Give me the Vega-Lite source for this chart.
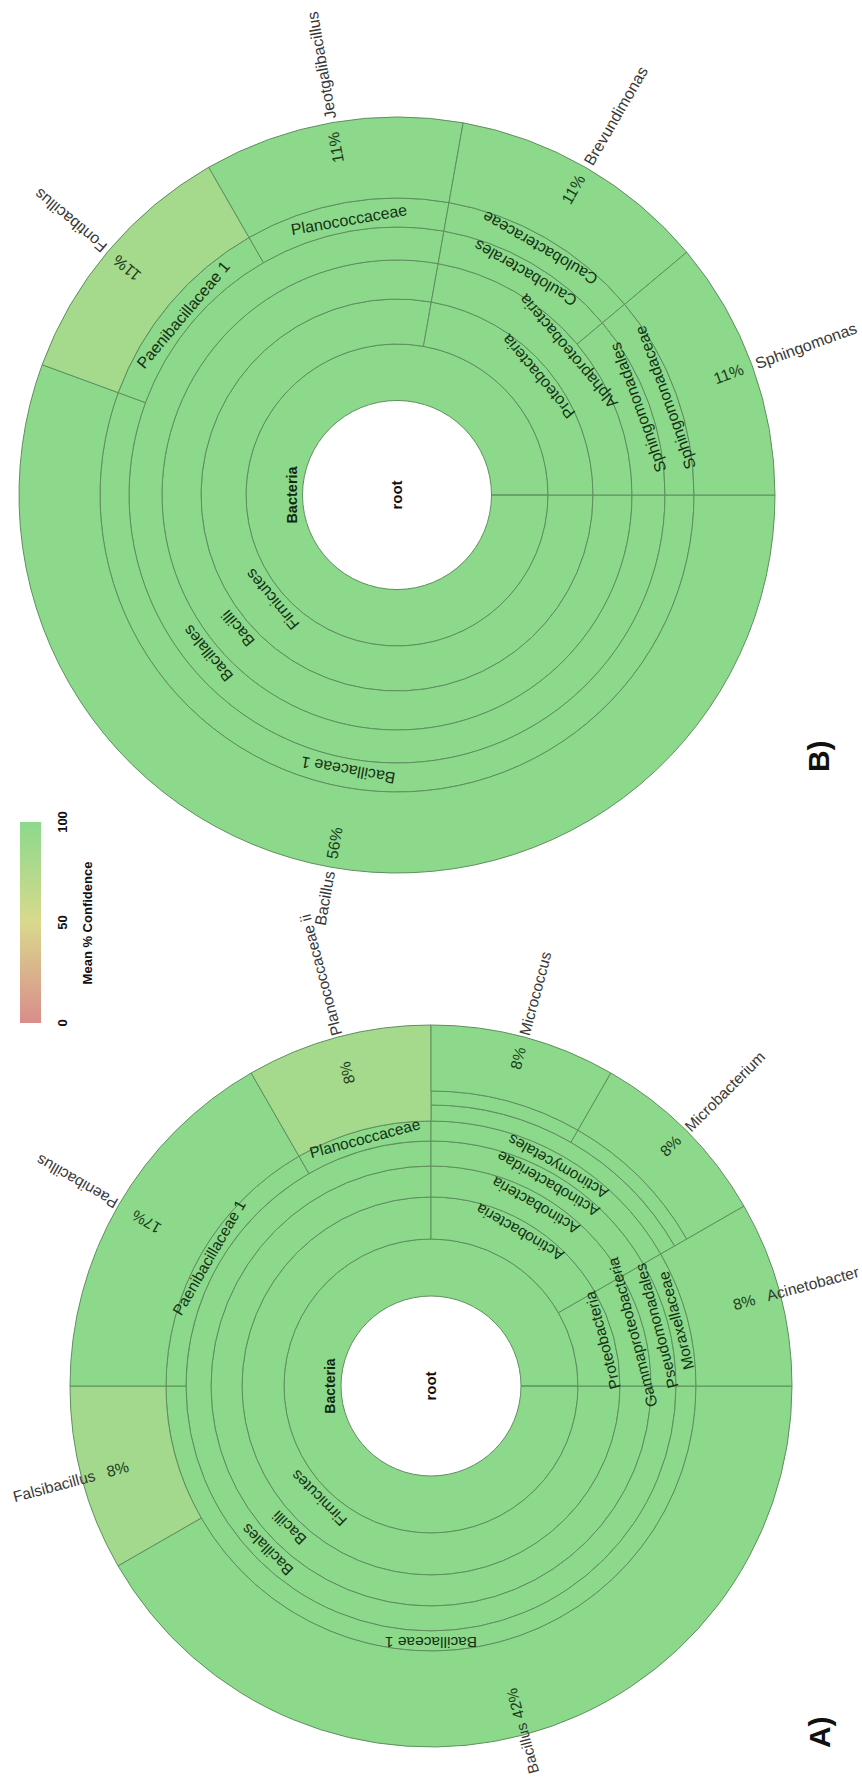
{
  "$schema": "https://vega.github.io/schema/vega-lite/v6.json",
  "background": "white",
  "padding": 0,
  "spacing": 0,
  "bounds": "flush",
  "config": {"view": {"stroke": null}, "font": "Liberation Sans"},
  "resolve": {"scale": {"theta": "independent", "radius": "independent"}},
  "vconcat": [
    {
      "width": 794,
      "height": 990,
      "data": {"values": [
        {"name": "Bacteria", "rank": "kingdom", "t0": 0, "t1": 100, "l0": 0, "l1": 1, "conf": 100},
        {"name": "Firmicutes", "rank": "phylum", "t0": 0, "t1": 77.8, "l0": 1, "l1": 2, "conf": 100},
        {"name": "Proteobacteria", "rank": "phylum", "t0": 77.8, "t1": 100, "l0": 1, "l1": 2, "conf": 100},
        {"name": "Bacilli", "rank": "class", "t0": 0, "t1": 77.8, "l0": 2, "l1": 3, "conf": 100},
        {"name": "Alphaproteobacteria", "rank": "class", "t0": 77.8, "t1": 100, "l0": 2, "l1": 3, "conf": 100},
        {"name": "Bacillales", "rank": "order", "t0": 0, "t1": 77.8, "l0": 3, "l1": 4, "conf": 100},
        {"name": "Caulobacterales", "rank": "order", "t0": 77.8, "t1": 88.9, "l0": 3, "l1": 4, "conf": 100},
        {"name": "Sphingomonadales", "rank": "order", "t0": 88.9, "t1": 100, "l0": 3, "l1": 4, "conf": 100},
        {"name": "Bacillaceae 1", "rank": "family", "t0": 0, "t1": 55.6, "l0": 4, "l1": 5, "conf": 100},
        {"name": "Paenibacillaceae 1", "rank": "family", "t0": 55.6, "t1": 66.7, "l0": 4, "l1": 5, "conf": 100},
        {"name": "Planococcaceae", "rank": "family", "t0": 66.7, "t1": 77.8, "l0": 4, "l1": 5, "conf": 100},
        {"name": "Caulobacteraceae", "rank": "family", "t0": 77.8, "t1": 88.9, "l0": 4, "l1": 5, "conf": 100},
        {"name": "Sphingomonadaceae", "rank": "family", "t0": 88.9, "t1": 100, "l0": 4, "l1": 5, "conf": 100},
        {"name": "Bacillus", "rank": "genus", "t0": 0, "t1": 55.6, "l0": 5, "l1": 6, "conf": 100},
        {"name": "Fontibacillus", "rank": "genus", "t0": 55.6, "t1": 66.7, "l0": 5, "l1": 6, "conf": 84},
        {"name": "Jeotgalibacillus", "rank": "genus", "t0": 66.7, "t1": 77.8, "l0": 5, "l1": 6, "conf": 100},
        {"name": "Brevundimonas", "rank": "genus", "t0": 77.8, "t1": 88.9, "l0": 5, "l1": 6, "conf": 100},
        {"name": "Sphingomonas", "rank": "genus", "t0": 88.9, "t1": 100, "l0": 5, "l1": 6, "conf": 100}
      ]},
      "transform": [
        {"calculate": "(datum.t0 + datum.t1) / 2", "as": "tm"},
        {"calculate": "90 + datum.tm * 3.6", "as": "th"},
        {"calculate": "datum.th % 360", "as": "tmod"},
        {"calculate": "datum.tmod < 180", "as": "tflip"},
        {"calculate": "datum.tflip ? datum.th - 180 : datum.th", "as": "tang"},
        {"calculate": "datum.tflip ? datum.l1 : datum.l0", "as": "lr"},
        {"calculate": "datum.tmod >= 90 && datum.tmod < 270", "as": "rflip"},
        {"calculate": "datum.rflip ? datum.th + 90 : datum.th - 90", "as": "rang"},
        {"calculate": "(datum.l0 + datum.l1) / 2", "as": "pr"},
        {"calculate": "(datum.t1 - datum.t0) / 100", "as": "share"}
      ],
      "layer": [
        {
          "mark": {"type": "arc", "stroke": "#5f8f5f", "strokeWidth": 1},
          "encoding": {
            "theta": {"field": "t0", "type": "quantitative", "stack": null, "scale": {"type": "linear", "domain": [0, 100], "range": [1.5707963, 7.8539816], "zero": false, "nice": false}},
            "theta2": {"field": "t1"},
            "radius": {"field": "l1", "type": "quantitative", "scale": {"type": "linear", "domain": [0, 1, 2, 3, 4, 5, 6], "range": [94.5, 151, 196, 235, 268, 297, 378], "zero": false, "nice": false}},
            "radius2": {"field": "l0"},
            "color": {
              "field": "conf", "type": "quantitative",
              "scale": {"domain": [0, 100], "range": ["hsl(0,50%,70%)", "hsl(120,50%,70%)"], "interpolate": "hsl"},
              "legend": {
                "title": "Mean % Confidence",
                "orient": "none", "legendX": 20, "legendY": 822,
                "direction": "vertical",
                "gradientLength": 201, "gradientThickness": 21, "gradientStrokeWidth": 0,
                "values": [0, 50, 100],
                "labelFont": "Liberation Sans", "labelFontSize": 13, "labelFontWeight": "bold", "labelColor": "#111111", "labelOffset": 16, "labelOverlap": false,
                "titleFont": "Liberation Sans", "titleFontSize": 13, "titleFontWeight": "bold", "titleColor": "#111111",
                "titleOrient": "right", "titleAnchor": "middle", "titlePadding": 12,
                "encode": {
                  "labels": {"update": {"angle": {"value": -90}, "align": {"value": "center"}, "baseline": {"value": "top"}}},
                  "title": {"update": {"angle": {"value": -90}, "align": {"value": "center"}, "baseline": {"value": "top"}}}
                }
              }
            }
          }
        },
        {
          "transform": [{"filter": "datum.rank !== 'genus' && datum.rank !== 'kingdom'"}],
          "mark": {"type": "text", "align": "center", "baseline": "alphabetic", "dy": -6, "fontSize": 16, "color": "#143214"},
          "encoding": {
            "theta": {"field": "tm", "type": "quantitative"},
            "radius": {"field": "lr", "type": "quantitative"},
            "text": {"field": "name"},
            "angle": {"field": "tang", "type": "quantitative", "scale": null}
          }
        },
        {
          "transform": [{"filter": "datum.rank === 'kingdom'"}],
          "mark": {"type": "text", "align": "center", "baseline": "alphabetic", "dy": -6, "fontSize": 14.5, "fontWeight": "bold", "color": "#102810"},
          "encoding": {
            "theta": {"field": "tm", "type": "quantitative"},
            "radius": {"field": "lr", "type": "quantitative"},
            "text": {"field": "name"},
            "angle": {"field": "tang", "type": "quantitative", "scale": null}
          }
        },
        {
          "transform": [{"filter": "datum.rank === 'genus' && !datum.rflip"}],
          "mark": {"type": "text", "align": "left", "baseline": "middle", "fontSize": 16, "color": "#1a3d1a"},
          "encoding": {
            "theta": {"field": "tm", "type": "quantitative"},
            "radius": {"field": "pr", "type": "quantitative"},
            "text": {"field": "share", "type": "quantitative", "format": ".0%"},
            "angle": {"field": "rang", "type": "quantitative", "scale": null}
          }
        },
        {
          "transform": [{"filter": "datum.rank === 'genus' && datum.rflip"}],
          "mark": {"type": "text", "align": "right", "baseline": "middle", "fontSize": 16, "color": "#1a3d1a"},
          "encoding": {
            "theta": {"field": "tm", "type": "quantitative"},
            "radius": {"field": "pr", "type": "quantitative"},
            "text": {"field": "share", "type": "quantitative", "format": ".0%"},
            "angle": {"field": "rang", "type": "quantitative", "scale": null}
          }
        },
        {
          "transform": [{"filter": "datum.rank === 'genus' && !datum.rflip"}],
          "mark": {"type": "text", "align": "left", "baseline": "middle", "fontSize": 16, "color": "#383838"},
          "encoding": {
            "theta": {"field": "tm", "type": "quantitative"},
            "radius": {"datum": 6.05, "type": "quantitative"},
            "text": {"field": "name"},
            "angle": {"field": "rang", "type": "quantitative", "scale": null}
          }
        },
        {
          "transform": [{"filter": "datum.rank === 'genus' && datum.rflip"}],
          "mark": {"type": "text", "align": "right", "baseline": "middle", "fontSize": 16, "color": "#383838"},
          "encoding": {
            "theta": {"field": "tm", "type": "quantitative"},
            "radius": {"datum": 6.05, "type": "quantitative"},
            "text": {"field": "name"},
            "angle": {"field": "rang", "type": "quantitative", "scale": null}
          }
        },
        {
          "data": {"values": [{"t": "root"}]},
          "mark": {"type": "text", "angle": 270, "align": "center", "baseline": "middle", "fontSize": 15, "fontWeight": "bold", "color": "#111111"},
          "encoding": {"text": {"field": "t"}}
        },
        {
          "data": {"values": [{"t": "B)"}]},
          "mark": {"type": "text", "angle": 270, "align": "center", "baseline": "middle", "fontSize": 30, "fontWeight": "bold", "color": "#111111"},
          "encoding": {
            "theta": {"datum": 8.81, "type": "quantitative"},
            "radius": {"datum": 7.469, "type": "quantitative"},
            "text": {"field": "t"}
          }
        }
      ]
    },
    {
      "width": 862,
      "height": 792,
      "data": {"values": [
        {"name": "Bacteria", "rank": "kingdom", "t0": 0, "t1": 100, "l0": 0, "l1": 1, "conf": 100},
        {"name": "Firmicutes", "rank": "phylum", "t0": 0, "t1": 75, "l0": 1, "l1": 2, "conf": 100},
        {"name": "Actinobacteria", "rank": "phylum", "t0": 75, "t1": 91.7, "l0": 1, "l1": 2, "conf": 100},
        {"name": "Proteobacteria", "rank": "phylum", "t0": 91.7, "t1": 100, "l0": 1, "l1": 2, "conf": 100},
        {"name": "Bacilli", "rank": "class", "t0": 0, "t1": 75, "l0": 2, "l1": 3, "conf": 100},
        {"name": "Actinobacteria", "rank": "class", "t0": 75, "t1": 91.7, "l0": 2, "l1": 3, "conf": 100},
        {"name": "Gammaproteobacteria", "rank": "class", "t0": 91.7, "t1": 100, "l0": 2, "l1": 3, "conf": 100},
        {"name": "Bacillales", "rank": "order", "t0": 0, "t1": 75, "l0": 3, "l1": 4, "conf": 100},
        {"name": "Actinobacteridae", "rank": "subclass", "t0": 75, "t1": 91.7, "l0": 3, "l1": 4, "conf": 100},
        {"name": "Pseudomonadales", "rank": "order", "t0": 91.7, "t1": 100, "l0": 3, "l1": 4, "conf": 100},
        {"name": "Bacillaceae 1", "rank": "family", "t0": 0, "t1": 50, "l0": 4, "l1": 5, "conf": 100},
        {"name": "Paenibacillaceae 1", "rank": "family", "t0": 50, "t1": 66.7, "l0": 4, "l1": 5, "conf": 100},
        {"name": "Planococcaceae", "rank": "family", "t0": 66.7, "t1": 75, "l0": 4, "l1": 5, "conf": 100},
        {"name": "Actinomycetales", "rank": "order", "t0": 75, "t1": 91.7, "l0": 4, "l1": 5, "conf": 100},
        {"name": "Moraxellaceae", "rank": "family", "t0": 91.7, "t1": 100, "l0": 4, "l1": 5, "conf": 100},
        {"name": "Micrococcineae", "rank": "suborder", "t0": 75, "t1": 91.7, "l0": 5, "l1": 6, "conf": 100},
        {"name": "Micrococcaceae", "rank": "family", "t0": 75, "t1": 83.3, "l0": 6, "l1": 7, "conf": 100},
        {"name": "Microbacteriaceae", "rank": "family", "t0": 83.3, "t1": 91.7, "l0": 6, "l1": 7, "conf": 100},
        {"name": "Bacillus", "rank": "genus", "t0": 0, "t1": 41.7, "l0": 5, "l1": 8, "conf": 100},
        {"name": "Falsibacillus", "rank": "genus", "t0": 41.7, "t1": 50, "l0": 5, "l1": 8, "conf": 86},
        {"name": "Paenibacillus", "rank": "genus", "t0": 50, "t1": 66.7, "l0": 5, "l1": 8, "conf": 100},
        {"name": "Planococcaceae ii", "rank": "genus", "t0": 66.7, "t1": 75, "l0": 5, "l1": 8, "conf": 84},
        {"name": "Micrococcus", "rank": "genus", "t0": 75, "t1": 83.3, "l0": 7, "l1": 8, "conf": 100},
        {"name": "Microbacterium", "rank": "genus", "t0": 83.3, "t1": 91.7, "l0": 7, "l1": 8, "conf": 100},
        {"name": "Acinetobacter", "rank": "genus", "t0": 91.7, "t1": 100, "l0": 5, "l1": 8, "conf": 100}
      ]},
      "transform": [
        {"calculate": "(datum.t0 + datum.t1) / 2", "as": "tm"},
        {"calculate": "90 + datum.tm * 3.6", "as": "th"},
        {"calculate": "datum.th % 360", "as": "tmod"},
        {"calculate": "datum.tmod < 180", "as": "tflip"},
        {"calculate": "datum.tflip ? datum.th - 180 : datum.th", "as": "tang"},
        {"calculate": "datum.tflip ? datum.l1 : datum.l0", "as": "lr"},
        {"calculate": "datum.tmod >= 90 && datum.tmod < 270", "as": "rflip"},
        {"calculate": "datum.rflip ? datum.th + 90 : datum.th - 90", "as": "rang"},
        {"calculate": "datum.l0 === 7 ? 7.5 : 7.273", "as": "pr"},
        {"calculate": "(datum.t1 - datum.t0) / 100", "as": "share"}
      ],
      "layer": [
        {
          "mark": {"type": "arc", "stroke": "#5f8f5f", "strokeWidth": 1},
          "encoding": {
            "theta": {"field": "t0", "type": "quantitative", "stack": null, "scale": {"type": "linear", "domain": [0, 100], "range": [1.5707963, 7.8539816], "zero": false, "nice": false}},
            "theta2": {"field": "t1"},
            "radius": {"field": "l1", "type": "quantitative", "scale": {"type": "linear", "domain": [0, 1, 2, 3, 4, 5, 6, 7, 8], "range": [90, 147, 189, 220, 245, 265, 281, 295, 361], "zero": false, "nice": false}},
            "radius2": {"field": "l0"},
            "color": {
              "field": "conf", "type": "quantitative",
              "scale": {"domain": [0, 100], "range": ["hsl(0,50%,70%)", "hsl(120,50%,70%)"], "interpolate": "hsl"},
              "legend": {
                "title": "Mean % Confidence",
                "orient": "none", "legendX": 20, "legendY": 822,
                "direction": "vertical",
                "gradientLength": 201, "gradientThickness": 21, "gradientStrokeWidth": 0,
                "values": [0, 50, 100],
                "labelFont": "Liberation Sans", "labelFontSize": 13, "labelFontWeight": "bold", "labelColor": "#111111", "labelOffset": 16, "labelOverlap": false,
                "titleFont": "Liberation Sans", "titleFontSize": 13, "titleFontWeight": "bold", "titleColor": "#111111",
                "titleOrient": "right", "titleAnchor": "middle", "titlePadding": 12,
                "encode": {
                  "labels": {"update": {"angle": {"value": -90}, "align": {"value": "center"}, "baseline": {"value": "top"}}},
                  "title": {"update": {"angle": {"value": -90}, "align": {"value": "center"}, "baseline": {"value": "top"}}}
                }
              }
            }
          }
        },
        {
          "transform": [{"filter": "datum.rank !== 'genus' && datum.rank !== 'kingdom' && datum.name !== 'Micrococcineae' && datum.name !== 'Micrococcaceae' && datum.name !== 'Microbacteriaceae'"}],
          "mark": {"type": "text", "align": "center", "baseline": "alphabetic", "dy": -6, "fontSize": 15.5, "color": "#143214"},
          "encoding": {
            "theta": {"field": "tm", "type": "quantitative"},
            "radius": {"field": "lr", "type": "quantitative"},
            "text": {"field": "name"},
            "angle": {"field": "tang", "type": "quantitative", "scale": null}
          }
        },
        {
          "transform": [{"filter": "datum.rank === 'kingdom'"}],
          "mark": {"type": "text", "align": "center", "baseline": "alphabetic", "dy": -6, "fontSize": 14, "fontWeight": "bold", "color": "#102810"},
          "encoding": {
            "theta": {"field": "tm", "type": "quantitative"},
            "radius": {"field": "lr", "type": "quantitative"},
            "text": {"field": "name"},
            "angle": {"field": "tang", "type": "quantitative", "scale": null}
          }
        },
        {
          "transform": [{"filter": "datum.rank === 'genus' && !datum.rflip"}],
          "mark": {"type": "text", "align": "left", "baseline": "middle", "fontSize": 15.5, "color": "#1a3d1a"},
          "encoding": {
            "theta": {"field": "tm", "type": "quantitative"},
            "radius": {"field": "pr", "type": "quantitative"},
            "text": {"field": "share", "type": "quantitative", "format": ".0%"},
            "angle": {"field": "rang", "type": "quantitative", "scale": null}
          }
        },
        {
          "transform": [{"filter": "datum.rank === 'genus' && datum.rflip"}],
          "mark": {"type": "text", "align": "right", "baseline": "middle", "fontSize": 15.5, "color": "#1a3d1a"},
          "encoding": {
            "theta": {"field": "tm", "type": "quantitative"},
            "radius": {"field": "pr", "type": "quantitative"},
            "text": {"field": "share", "type": "quantitative", "format": ".0%"},
            "angle": {"field": "rang", "type": "quantitative", "scale": null}
          }
        },
        {
          "transform": [{"filter": "datum.rank === 'genus' && !datum.rflip && datum.name !== 'Acinetobacter'"}],
          "mark": {"type": "text", "align": "left", "baseline": "middle", "fontSize": 15.5, "color": "#383838"},
          "encoding": {
            "theta": {"field": "tm", "type": "quantitative"},
            "radius": {"datum": 8.03, "type": "quantitative"},
            "text": {"field": "name"},
            "angle": {"field": "rang", "type": "quantitative", "scale": null}
          }
        },
        {
          "transform": [{"filter": "datum.name === 'Acinetobacter'"}],
          "mark": {"type": "text", "align": "left", "baseline": "middle", "fontSize": 15.5, "color": "#383838", "clip": true},
          "encoding": {
            "theta": {"field": "tm", "type": "quantitative"},
            "radius": {"datum": 7.8, "type": "quantitative"},
            "text": {"field": "name"},
            "angle": {"field": "rang", "type": "quantitative", "scale": null}
          }
        },
        {
          "transform": [{"filter": "datum.name === 'Falsibacillus'"}],
          "mark": {"type": "text", "align": "right", "baseline": "middle", "fontSize": 15.5, "color": "#383838"},
          "encoding": {
            "theta": {"field": "tm", "type": "quantitative"},
            "radius": {"datum": 7.8, "type": "quantitative"},
            "text": {"field": "name"},
            "angle": {"field": "rang", "type": "quantitative", "scale": null}
          }
        },
        {
          "transform": [{"filter": "datum.name === 'Bacillus'"}],
          "mark": {"type": "text", "align": "right", "baseline": "middle", "fontSize": 15, "color": "#383838", "clip": true},
          "encoding": {
            "theta": {"field": "tm", "type": "quantitative"},
            "radius": {"datum": 7.82, "type": "quantitative"},
            "text": {"field": "name"},
            "angle": {"field": "rang", "type": "quantitative", "scale": null}
          }
        },
        {
          "data": {"values": [{"t": "root"}]},
          "mark": {"type": "text", "angle": 270, "align": "center", "baseline": "middle", "fontSize": 15, "fontWeight": "bold", "color": "#111111"},
          "encoding": {"text": {"field": "t"}}
        },
        {
          "data": {"values": [{"t": "A)"}]},
          "mark": {"type": "text", "angle": 270, "align": "center", "baseline": "middle", "fontSize": 30, "fontWeight": "bold", "color": "#111111"},
          "encoding": {
            "theta": {"datum": 11.56, "type": "quantitative"},
            "radius": {"datum": 10.43, "type": "quantitative"},
            "text": {"field": "t"}
          }
        }
      ]
    }
  ]
}
